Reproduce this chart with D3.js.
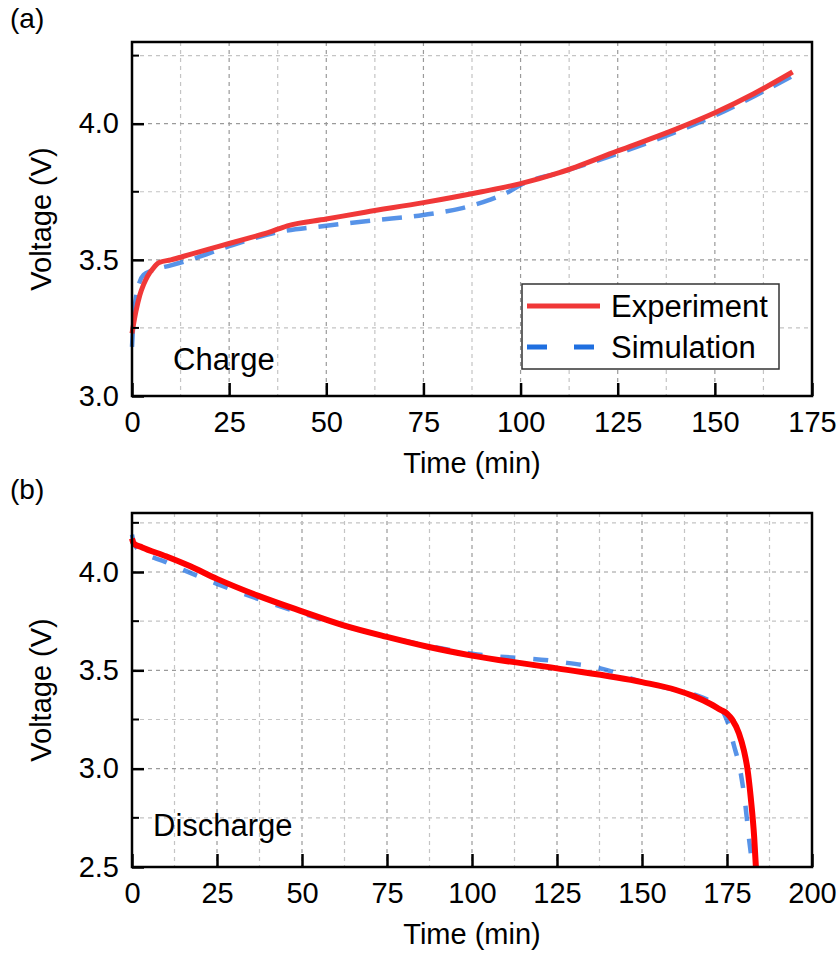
<!DOCTYPE html>
<html>

<head>
    <meta charset="utf-8">
    <title>Charge / Discharge Voltage</title>
    <script src="https://cdn.jsdelivr.net/npm/d3@7"></script>
    <style>
        body {
            margin: 0;
            background-color: white;
            font-family: "Liberation Sans", Arial, sans-serif;
        }
    </style>
</head>

<body>
    <div id="my_dataviz"></div>
    <script>

        // ---- data ----
        // (a) charge
        var chargeExpTime = [0, 1, 2, 3, 4, 5.5, 7, 10, 15, 20, 25, 30, 35, 40, 50, 60, 75, 90, 100, 110, 125, 140, 150, 160, 170];
        var chargeExpVolt = [3.23, 3.31, 3.37, 3.41, 3.44, 3.47, 3.49, 3.50, 3.52, 3.54, 3.56, 3.58, 3.60, 3.625, 3.65, 3.675, 3.71, 3.75, 3.78, 3.82, 3.90, 3.98, 4.04, 4.11, 4.19];
        var chargeSimTime = [0, 0.5, 1, 2, 3, 5, 10, 15, 25, 37, 50, 62, 75, 85, 92, 97, 100, 110, 125, 140, 150, 160, 170];
        var chargeSimVolt = [3.18, 3.30, 3.36, 3.42, 3.445, 3.46, 3.48, 3.50, 3.55, 3.60, 3.625, 3.645, 3.665, 3.69, 3.72, 3.75, 3.775, 3.82, 3.89, 3.97, 4.03, 4.10, 4.175];

        // (b) discharge
        var dischExpTime = [0, 0.5, 3, 10, 17, 25, 37, 50, 62, 75, 87, 100, 125, 150, 160, 165, 170, 173, 175, 176.5, 178.5, 180, 181, 182, 183, 183.5];
        var dischExpVolt = [4.17, 4.145, 4.125, 4.08, 4.03, 3.965, 3.88, 3.80, 3.73, 3.67, 3.62, 3.575, 3.51, 3.44, 3.40, 3.37, 3.33, 3.30, 3.28, 3.25, 3.18, 3.09, 3.0, 2.85, 2.65, 2.5];
        var dischSimTime = [0, 0.5, 1.5, 10, 25, 50, 75, 90, 100, 125, 140, 150, 160, 168, 173, 175.5, 177, 178.8, 180.3, 181.5, 182];
        var dischSimVolt = [4.19, 4.15, 4.12, 4.05, 3.94, 3.79, 3.67, 3.615, 3.585, 3.545, 3.50, 3.44, 3.40, 3.36, 3.31, 3.22, 3.12, 3.0, 2.83, 2.64, 2.57];

        var xTicksA = [0, 25, 50, 75, 100, 125, 150, 175];
        var yTicksA = [3.0, 3.5, 4.0];
        var xTicksB = [0, 25, 50, 75, 100, 125, 150, 175, 200];
        var yTicksB = [2.5, 3.0, 3.5, 4.0];

        var legendLabels = ["Experiment", "Simulation"];

        function zip(t, v) {
            return t.map(function (d, i) { return { t: d, v: v[i] }; });
        }

        var svg = d3.select("#my_dataviz")
            .append("svg")
            .attr("width", 839)
            .attr("height", 953);

        // draws one panel
        function panel(opt) {
            var x = d3.scaleLinear().domain(opt.xDomain).range([opt.left, opt.right]);
            var y = d3.scaleLinear().domain(opt.yDomain).range([opt.bottom, opt.top]);
            var g = svg.append("g");

            // grid: minor (light) and major (darker) dashed lines
            var xGrid = d3.range(opt.xDomain[0] + 12.5, opt.xDomain[1], 12.5);
            var yGrid = d3.range(opt.yDomain[0] + 0.25, opt.yDomain[1] - 1e-6, 0.25);
            g.selectAll(".gx").data(xGrid).enter().append("line")
                .attr("x1", function (d) { return x(d); })
                .attr("x2", function (d) { return x(d); })
                .attr("y1", opt.top).attr("y2", opt.bottom)
                .style("stroke", function (d) { return d % 25 === 0 ? "#9a9a9a" : "#c4c4c4"; })
                .style("stroke-width", 1.2)
                .style("stroke-dasharray", "4,4");
            g.selectAll(".gy").data(yGrid).enter().append("line")
                .attr("y1", function (d) { return y(d); })
                .attr("y2", function (d) { return y(d); })
                .attr("x1", opt.left).attr("x2", opt.right)
                .style("stroke", function (d) { return Math.abs(d * 2 - Math.round(d * 2)) < 1e-6 ? "#9a9a9a" : "#c4c4c4"; })
                .style("stroke-width", 1.2)
                .style("stroke-dasharray", "4,4");

            // curves
            var line = d3.line()
                .x(function (d) { return x(d.t); })
                .y(function (d) { return y(d.v); })
                .curve(d3.curveMonotoneX);

            g.append("path")
                .datum(zip(opt.simT, opt.simV))
                .attr("d", line)
                .style("fill", "none")
                .style("stroke", "#1f6fe0")
                .style("stroke-opacity", 0.75)
                .style("stroke-width", 4.5)
                .style("stroke-dasharray", opt.dash);

            g.append("path")
                .datum(zip(opt.expT, opt.expV))
                .attr("d", line)
                .style("fill", "none")
                .style("stroke", opt.red)
                .style("stroke-width", opt.redWidth);

            // axes, ticks pointing inward
            var xAxis = g.append("g")
                .attr("transform", "translate(0," + opt.bottom + ")")
                .call(d3.axisBottom(x).tickValues(opt.xTicks).tickSizeInner(-13).tickSizeOuter(0).tickPadding(15));
            var yAxis = g.append("g")
                .attr("transform", "translate(" + opt.left + ",0)")
                .call(d3.axisLeft(y).tickValues(opt.yTicks).tickFormat(d3.format(".1f")).tickSizeInner(-12).tickSizeOuter(0).tickPadding(13));

            // minor ticks on y
            g.selectAll(".ym").data(yGrid.filter(function (d) { return Math.abs(d * 2 - Math.round(d * 2)) > 1e-6; }))
                .enter().append("line")
                .attr("x1", opt.left).attr("x2", opt.left + 7)
                .attr("y1", function (d) { return y(d); })
                .attr("y2", function (d) { return y(d); })
                .style("stroke", "black").style("stroke-width", 2);

            [xAxis, yAxis].forEach(function (a) {
                a.select(".domain").remove();
                a.selectAll("line").style("stroke", "black").style("stroke-width", 2.5);
                a.selectAll("text")
                    .style("font-family", "Liberation Sans, Arial, sans-serif")
                    .style("font-size", "29px")
                    .style("fill", "black");
            });

            // frame
            g.append("rect")
                .attr("x", opt.left).attr("y", opt.top)
                .attr("width", opt.right - opt.left)
                .attr("height", opt.bottom - opt.top)
                .style("fill", "none")
                .style("stroke", "black")
                .style("stroke-width", 2.5);

            // labels
            g.append("text")
                .attr("x", (opt.left + opt.right) / 2)
                .attr("y", opt.bottom + 77)
                .attr("text-anchor", "middle")
                .style("font-size", "29px")
                .text("Time (min)");
            g.append("text")
                .attr("transform", "translate(51," + ((opt.top + opt.bottom) / 2) + ") rotate(-90)")
                .attr("text-anchor", "middle")
                .style("font-size", "29px")
                .text("Voltage (V)");
            g.append("text")
                .attr("x", 10)
                .attr("y", opt.top - 14)
                .style("font-size", "28px")
                .text(opt.tag);
            g.append("text")
                .attr("x", opt.noteX)
                .attr("y", opt.noteY)
                .style("font-size", "31px")
                .text(opt.note);

            return { x: x, y: y, g: g };
        }

        var pa = panel({
            left: 132, right: 812, top: 42, bottom: 396,
            xDomain: [0, 175], yDomain: [3.0, 4.3],
            xTicks: xTicksA, yTicks: yTicksA,
            expT: chargeExpTime, expV: chargeExpVolt,
            simT: chargeSimTime, simV: chargeSimVolt,
            red: "#f03838", redWidth: 5, dash: "20,12",
            tag: "(a)", note: "Charge", noteX: 173, noteY: 370
        });

        panel({
            left: 132, right: 812, top: 513, bottom: 867,
            xDomain: [0, 200], yDomain: [2.5, 4.3],
            xTicks: xTicksB, yTicks: yTicksB,
            expT: dischExpTime, expV: dischExpVolt,
            simT: dischSimTime, simV: dischSimVolt,
            red: "#ff0000", redWidth: 6, dash: "15,18",
            tag: "(b)", note: "Discharge", noteX: 153, noteY: 836
        });

        // legend in panel (a)
        var lg = pa.g.append("g").attr("transform", "translate(522,284)");
        lg.append("rect")
            .attr("width", 257).attr("height", 85)
            .style("fill", "white")
            .style("stroke", "#333")
            .style("stroke-width", 1.5);
        lg.append("line")
            .attr("x1", 5).attr("x2", 78).attr("y1", 22).attr("y2", 22)
            .style("stroke", "#f03838").style("stroke-width", 5);
        lg.append("line")
            .attr("x1", 5).attr("x2", 78).attr("y1", 63).attr("y2", 63)
            .style("stroke", "#1f6fe0").style("stroke-width", 5)
            .style("stroke-dasharray", "20,27");
        lg.selectAll(".lt").data(legendLabels).enter().append("text")
            .attr("x", 89)
            .attr("y", function (d, i) { return 33 + i * 41; })
            .style("font-size", "31px")
            .text(function (d) { return d; });

    </script>
</body>

</html>
